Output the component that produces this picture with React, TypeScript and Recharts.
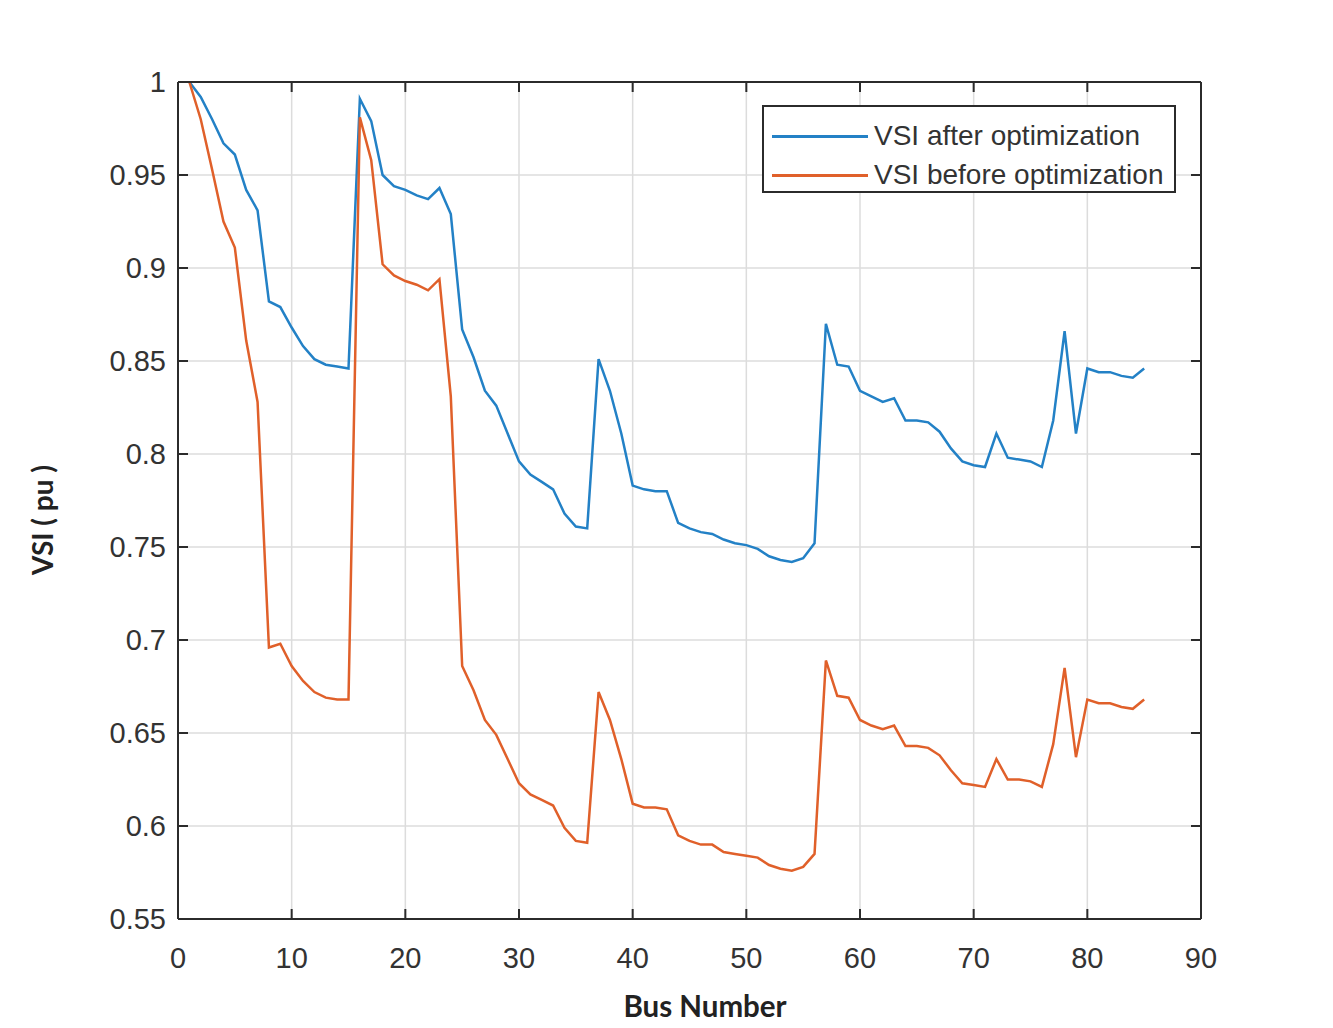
import { LineChart, Line, XAxis, YAxis, CartesianGrid } from "recharts";

// VSI per bus (85 buses)
const vsiAfter = [
  1.0, 0.992, 0.98, 0.967, 0.961, 0.942, 0.931, 0.882, 0.879, 0.868,
  0.858, 0.851, 0.848, 0.847, 0.846, 0.991, 0.979, 0.95, 0.944, 0.942,
  0.939, 0.937, 0.943, 0.929, 0.867, 0.852, 0.834, 0.826, 0.811, 0.796,
  0.789, 0.785, 0.781, 0.768, 0.761, 0.76, 0.851, 0.834, 0.811, 0.783,
  0.781, 0.78, 0.78, 0.763, 0.76, 0.758, 0.757, 0.754, 0.752, 0.751,
  0.749, 0.745, 0.743, 0.742, 0.744, 0.752, 0.87, 0.848, 0.847, 0.834,
  0.831, 0.828, 0.83, 0.818, 0.818, 0.817, 0.812, 0.803, 0.796, 0.794,
  0.793, 0.811, 0.798, 0.797, 0.796, 0.793, 0.818, 0.866, 0.811, 0.846,
  0.844, 0.844, 0.842, 0.841, 0.846,
];

const vsiBefore = [
  1.0, 0.98, 0.953, 0.925, 0.911, 0.861, 0.828, 0.696, 0.698, 0.686,
  0.678, 0.672, 0.669, 0.668, 0.668, 0.981, 0.958, 0.902, 0.896, 0.893,
  0.891, 0.888, 0.894, 0.831, 0.686, 0.673, 0.657, 0.649, 0.636, 0.623,
  0.617, 0.614, 0.611, 0.599, 0.592, 0.591, 0.672, 0.657, 0.636, 0.612,
  0.61, 0.61, 0.609, 0.595, 0.592, 0.59, 0.59, 0.586, 0.585, 0.584,
  0.583, 0.579, 0.577, 0.576, 0.578, 0.585, 0.689, 0.67, 0.669, 0.657,
  0.654, 0.652, 0.654, 0.643, 0.643, 0.642, 0.638, 0.63, 0.623, 0.622,
  0.621, 0.636, 0.625, 0.625, 0.624, 0.621, 0.644, 0.685, 0.637, 0.668,
  0.666, 0.666, 0.664, 0.663, 0.668,
];

const seriesNames = ["VSI after optimization", "VSI before optimization"];
const seriesColors = ["#2381c6", "#e0602a"];

const xTicks = [0, 10, 20, 30, 40, 50, 60, 70, 80, 90];
const yTicks = [0.55, 0.6, 0.65, 0.7, 0.75, 0.8, 0.85, 0.9, 0.95, 1];

const data = vsiAfter.map((v, i) => ({
  bus: i + 1,
  after: v,
  before: vsiBefore[i],
}));

const tickStyle = { fill: "#333", fontSize: 29, fontFamily: "Liberation Sans, Arial, sans-serif" };
const axisColor = "#2b2b2b";

export default function App() {
  return (
    <div style={{ position: "relative", width: 1317, height: 1012 }}>
      <LineChart
        width={1317}
        height={1012}
        data={data}
        margin={{ top: 73, right: 123, bottom: 41, left: 90 }}
      >
        <CartesianGrid stroke="#dcdcdc" strokeWidth={1.5} />
        <XAxis
          dataKey="bus"
          type="number"
          domain={[0, 90]}
          ticks={xTicks}
          height={60}
          stroke={axisColor}
          strokeWidth={2}
          tick={tickStyle}
          tickSize={-10}
          tickMargin={38}
        />
        <XAxis
          xAxisId="top"
          dataKey="bus"
          orientation="top"
          type="number"
          domain={[0, 90]}
          ticks={xTicks}
          height={1}
          stroke={axisColor}
          strokeWidth={2}
          tickFormatter={() => ""}
          tickSize={-10}
        />
        <YAxis
          type="number"
          domain={[0.55, 1]}
          ticks={yTicks}
          width={80}
          stroke={axisColor}
          strokeWidth={2}
          tick={tickStyle}
          tickSize={-10}
          tickMargin={22}
          tickFormatter={(v) => String(v)}
        />
        <YAxis
          yAxisId="right"
          orientation="right"
          type="number"
          domain={[0.55, 1]}
          ticks={yTicks}
          width={1}
          stroke={axisColor}
          strokeWidth={2}
          tickFormatter={() => ""}
          tickSize={-10}
        />
        <Line
          dataKey="after"
          xAxisId="top"
          yAxisId="right"
          name={seriesNames[0]}
          stroke={seriesColors[0]}
          strokeWidth={2.5}
          dot={false}
          type="linear"
          isAnimationActive={false}
        />
        <Line
          dataKey="before"
          name={seriesNames[1]}
          stroke={seriesColors[1]}
          strokeWidth={2.5}
          dot={false}
          type="linear"
          isAnimationActive={false}
        />
      </LineChart>

      {/* legend box */}
      <div
        style={{
          position: "absolute",
          left: 754,
          top: 97,
          width: 410,
          height: 84,
          border: `2px solid ${axisColor}`,
          background: "#fff",
          fontFamily: "Liberation Sans, Arial, sans-serif",
          fontSize: 28,
          color: "#333",
        }}
      >
        {seriesNames.map((name, i) => (
          <div
            key={name}
            style={{ position: "absolute", left: 8, top: 14 + i * 39, display: "flex", alignItems: "center", whiteSpace: "nowrap" }}
          >
            <span style={{ display: "inline-block", width: 96, height: 3, background: seriesColors[i], marginRight: 6 }} />
            <span style={{ lineHeight: "30px" }}>{name}</span>
          </div>
        ))}
      </div>

      <div
        style={{
          position: "absolute",
          left: 34 - 70,
          top: 512 - 17,
          width: 140,
          textAlign: "center",
          transform: "rotate(-90deg)",
          fontFamily: "Lato, sans-serif",
          fontWeight: 700,
          fontSize: 28,
          lineHeight: "34px",
          color: "#222",
        }}
      >
        VSI ( pu )
      </div>
      <div
        style={{
          position: "absolute",
          left: 697 - 150,
          top: 981,
          width: 300,
          textAlign: "center",
          fontFamily: "Lato, sans-serif",
          fontWeight: 700,
          fontSize: 29.5,
          lineHeight: "34px",
          color: "#222",
        }}
      >
        Bus Number
      </div>
    </div>
  );
}
